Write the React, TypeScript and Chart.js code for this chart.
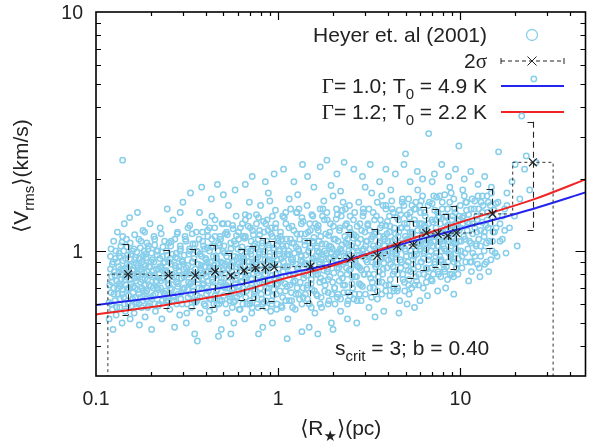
import React, { useEffect, useRef } from 'react';
import { Chart, registerables } from 'chart.js';

Chart.register(...registerables);

// ---------------- data ----------------
// Heyer et al. (2001) clouds: [R (pc), Vrms (km/s)] – outer spread
const HEYER_SPREAD: number[][] = [
  [0.118,0.52],[0.118,0.61],[0.119,0.72],[0.12,0.84],[0.12,0.95],[0.121,1.02],[0.121,0.67],[0.122,0.78],[0.123,0.57],[0.123,0.88],[0.124,0.47],[0.125,1.1],[0.125,0.7],[0.126,0.82],[0.127,0.62],[0.128,0.93],[0.129,0.54],[0.13,0.75],[0.131,1.2],[0.132,0.66],[0.133,0.86],[0.134,0.98],[0.135,0.58],[0.136,0.71],[0.137,1.05],[0.138,0.8],[0.139,0.5],[0.14,2.4],[0.141,0.91],[0.142,0.64],[0.143,1.3],[0.144,0.76],[0.145,0.56],[0.146,0.85],[0.147,1.12],[0.148,0.69],[0.149,0.96],[0.15,0.6],[0.152,0.79],[0.153,1.38],[0.154,0.52],[0.155,0.88],[0.156,0.73],[0.158,1.0],[0.159,0.63],
  [0.161,0.83],[0.162,0.55],[0.163,1.17],[0.164,0.7],[0.165,0.94],[0.167,0.61],[0.168,0.78],[0.169,1.45],[0.17,0.87],[0.172,0.66],[0.173,0.49],[0.175,1.03],[0.176,0.74],[0.178,0.58],[0.179,0.9],[0.181,1.22],[0.182,0.68],[0.184,0.81],[0.186,0.53],[0.187,0.97],[0.189,0.63],[0.19,1.08],[0.192,0.76],[0.194,0.59],[0.196,0.86],[0.198,1.3],[0.2,0.71],[0.202,0.47],[0.204,0.92],[0.206,0.65],[0.208,1.15],[0.21,0.79],[0.212,0.56],[0.215,1.0],[0.217,0.7],[0.22,0.84],[0.222,0.6],[0.225,1.25],[0.227,0.75],[0.23,0.52],[0.232,0.95],[0.235,0.67],[0.238,1.1],[0.24,0.82],[0.243,0.62],[0.246,1.5],[0.248,0.73],
  [0.251,0.9],[0.254,0.57],[0.257,1.05],[0.26,0.69],[0.262,0.8],[0.265,1.35],[0.268,0.62],[0.27,0.48],[0.273,0.94],[0.276,0.74],[0.279,1.18],[0.282,0.66],[0.285,0.86],[0.288,0.54],[0.291,1.02],[0.294,0.77],[0.297,0.6],[0.3,1.6],[0.303,0.88],[0.306,0.7],[0.31,1.12],[0.313,0.5],[0.316,0.82],[0.32,0.64],[0.323,0.97],[0.327,1.28],[0.33,0.73],[0.334,0.58],[0.337,0.9],[0.34,1.07],[0.344,0.68],[0.348,0.45],[0.351,0.84],[0.355,1.2],[0.358,0.62],[0.362,0.99],[0.366,0.76],[0.37,1.45],[0.373,0.55],[0.377,0.87],[0.381,0.7],[0.385,1.1],[0.389,0.8],[0.392,0.6],[0.396,1.32],[0.33,1.75],[0.36,0.42],[0.29,1.45],[0.38,1.85],
  [0.4,0.93],[0.404,0.66],[0.408,1.03],[0.412,0.75],[0.416,0.52],[0.42,1.25],[0.424,0.85],[0.428,0.63],[0.433,1.4],[0.437,0.71],[0.441,0.95],[0.446,0.57],[0.45,1.15],[0.455,0.8],[0.459,0.68],[0.464,1.9],[0.468,0.89],[0.473,0.6],[0.478,1.06],[0.483,0.74],[0.487,0.47],[0.492,1.3],[0.497,0.83],[0.502,0.65],[0.507,0.98],[0.512,1.18],[0.517,0.72],[0.522,0.55],[0.527,0.9],[0.533,1.55],[0.538,0.78],[0.543,0.62],[0.549,1.08],[0.554,0.86],[0.56,0.69],[0.565,1.24],[0.571,0.5],[0.577,0.95],[0.582,0.76],[0.588,1.4],[0.594,0.64],[0.6,0.88],[0.606,1.12],[0.612,0.71],[0.618,0.57],[0.624,1.0],[0.43,1.65],[0.5,1.72],[0.47,0.44],[0.58,1.8],[0.55,0.45],
  [0.63,0.82],[0.636,1.3],[0.642,0.67],[0.648,0.93],[0.655,0.52],[0.661,1.15],[0.668,0.77],[0.674,0.6],[0.681,1.02],[0.688,0.86],[0.695,1.6],[0.702,0.7],[0.709,0.97],[0.716,0.55],[0.723,1.22],[0.73,0.8],[0.737,0.64],[0.745,1.07],[0.752,0.9],[0.76,1.42],[0.767,0.73],[0.775,0.58],[0.783,0.99],[0.791,1.17],[0.799,0.83],[0.807,0.66],[0.815,1.05],[0.823,0.48],[0.831,1.33],[0.84,0.76],[0.848,0.92],[0.857,0.62],[0.865,1.1],[0.874,0.85],[0.883,1.75],[0.891,0.7],[0.9,0.95],[0.91,0.56],[0.919,1.25],[0.928,0.79],[0.937,0.65],[0.947,1.03],[0.956,0.88],[0.966,1.48],[0.975,0.72],[0.985,0.6],[0.995,1.13],[0.66,1.9],[0.72,2.05],[0.85,1.95],[0.78,0.45],[0.93,0.5],[0.69,1.4],[0.8,1.55],[0.95,2.1],[0.9,1.62],
  [1.0,0.84],[1.01,0.97],[1.02,0.68],[1.03,1.2],[1.04,0.78],[1.05,0.58],[1.06,1.05],[1.07,0.9],[1.08,1.38],[1.09,0.73],[1.1,0.62],[1.11,1.12],[1.12,0.86],[1.13,0.52],[1.14,1.0],[1.15,1.65],[1.16,0.8],[1.18,0.67],[1.19,1.27],[1.2,0.93],[1.21,0.74],[1.22,1.08],[1.24,0.57],[1.25,0.88],[1.26,1.45],[1.27,0.7],[1.29,1.02],[1.3,0.82],[1.31,0.63],[1.33,1.18],[1.34,0.95],[1.35,0.46],[1.37,1.33],[1.38,0.77],[1.4,1.06],[1.41,0.66],[1.42,0.89],[1.44,1.55],[1.45,0.72],[1.47,1.0],[1.48,0.6],[1.5,1.22],[1.51,0.85],[1.53,0.69],[1.54,1.1],[1.56,0.93],[1.57,1.85],[1.59,0.55],[1.07,2.2],[1.22,1.95],[1.36,2.3],[1.12,0.43],[1.48,0.48],[1.28,1.72],[1.45,2.05],[1.17,1.5],[1.55,1.4],
  [1.61,0.8],[1.63,1.03],[1.64,0.65],[1.66,1.28],[1.68,0.9],[1.69,0.74],[1.71,1.15],[1.73,0.58],[1.75,0.97],[1.76,1.5],[1.78,0.83],[1.8,0.68],[1.82,1.07],[1.84,0.88],[1.86,1.35],[1.88,0.76],[1.9,0.62],[1.92,1.2],[1.94,0.94],[1.96,0.5],[1.98,1.02],[2.0,1.7],[2.02,0.81],[2.04,0.7],[2.06,1.12],[2.09,0.92],[2.11,1.42],[2.13,0.66],[2.15,0.85],[2.18,1.25],[2.2,0.56],[2.22,1.0],[2.25,0.77],[2.27,1.6],[2.3,0.9],[2.32,0.72],[2.35,1.08],[2.37,1.3],[2.4,0.6],[2.42,0.97],[2.45,0.83],[2.48,1.18],[1.7,2.25],[1.85,2.4],[2.1,2.1],[2.3,2.35],[1.65,0.45],[2.0,0.47],[2.4,0.52],[1.95,1.88],[2.2,1.78],[1.78,1.62],[2.46,1.55],
  [2.5,0.88],[2.53,1.05],[2.56,0.7],[2.59,1.35],[2.62,0.93],[2.65,0.78],[2.68,1.15],[2.71,0.62],[2.74,1.0],[2.77,1.6],[2.8,0.85],[2.84,0.72],[2.87,1.22],[2.9,0.96],[2.94,1.45],[2.97,0.8],[3.01,0.66],[3.04,1.1],[3.08,0.9],[3.11,1.3],[3.15,0.58],[3.19,1.02],[3.22,0.77],[3.26,1.75],[3.3,0.94],[3.34,0.7],[3.38,1.18],[3.42,0.86],[3.46,1.4],[3.5,0.63],[3.54,1.06],[3.58,0.82],[3.63,1.25],[3.67,0.97],[3.71,0.74],[3.76,1.55],[3.8,0.89],[3.85,1.12],[3.89,0.68],[3.94,1.0],[3.98,1.33],[2.6,2.2],[2.9,2.05],[3.2,2.3],[3.6,1.95],[3.9,2.2],[2.7,0.5],[3.4,0.53],[3.8,0.56],[3.0,1.85],[3.7,1.7],
  [4.03,0.92],[4.08,1.2],[4.12,0.76],[4.17,1.05],[4.22,1.5],[4.27,0.86],[4.32,0.68],[4.37,1.12],[4.43,0.98],[4.48,1.38],[4.53,0.8],[4.59,1.02],[4.64,0.62],[4.7,1.25],[4.75,0.9],[4.81,1.65],[4.87,1.08],[4.93,0.74],[4.99,1.15],[5.05,0.95],[5.11,1.42],[5.17,0.83],[5.23,0.66],[5.29,1.2],[5.36,1.0],[5.42,1.55],[5.49,0.88],[5.55,1.1],[5.62,0.72],[5.69,1.3],[5.76,0.97],[5.83,1.8],[5.9,0.8],[5.97,1.05],[6.04,1.45],[6.11,0.9],[6.18,1.18],[6.26,0.7],[4.4,2.1],[4.9,2.3],[5.3,1.95],[5.8,2.15],[6.2,2.0],[4.6,0.55],[5.1,0.6],[5.6,0.58],[6.0,0.62],[4.15,1.8],[5.0,2.55],[5.7,1.6],
  [6.34,1.0],[6.41,1.25],[6.49,0.85],[6.57,1.1],[6.65,1.55],[6.73,0.95],[6.81,1.18],[6.89,0.76],[6.97,1.35],[7.06,1.05],[7.14,1.7],[7.23,0.88],[7.31,1.2],[7.4,0.98],[7.49,1.45],[7.58,0.8],[7.67,1.12],[7.76,1.3],[7.85,0.92],[7.95,1.6],[8.04,1.07],[8.14,0.84],[8.24,1.22],[8.34,1.0],[8.44,1.4],[8.54,0.9],[8.64,1.15],[8.75,1.85],[8.85,0.97],[8.96,1.28],[9.07,1.08],[9.18,0.78],[9.29,1.5],[9.4,1.02],[9.51,1.2],[9.63,0.88],[9.75,1.35],[9.87,1.1],[6.7,3.1],[9.8,2.75],[7.2,2.1],[7.9,2.3],[8.6,2.05],[9.4,2.2],[6.6,0.65],[7.5,0.68],[8.3,0.7],[9.2,0.66],[7.0,1.95],[8.9,1.75],
  [10.0,1.25],[10.2,0.95],[10.4,1.4],[10.6,1.12],[10.8,1.6],[11.0,1.02],[11.2,1.3],[11.5,0.9],[11.7,1.18],[11.9,1.5],[12.2,1.07],[12.4,1.35],[12.7,0.85],[12.9,1.22],[13.2,1.7],[13.5,1.0],[13.8,1.28],[14.1,1.45],[14.4,1.1],[14.7,0.92],[15.0,1.38],[15.4,1.2],[15.7,1.58],[10.5,2.0],[11.4,2.15],[12.5,1.9],[13.6,2.05],[14.8,1.85],[11.1,0.75],[12.8,0.78],[14.3,0.82],[15.5,0.98],[10.3,1.8],[12.0,1.62],
  [16.2,2.6],[16.5,1.3],[17.0,1.12],[17.5,1.5],[18.0,1.75],[18.6,1.25],[19.2,1.95],[19.8,1.4],[20.5,1.05],[21.2,1.65],[21.7,3.67],[22.5,2.2],[23.0,2.5],[24.0,1.8],[25.3,5.25],[26.0,2.35],[17.8,0.98],[20.0,2.3],
];

// Heyer et al. (2001) clouds: core of the distribution
const HEYER_CORE: number[][] = [
  [0.131,0.9],[0.134,0.73],[0.137,0.84],[0.139,0.66],[0.142,1.0],[0.145,0.78],[0.148,0.88],[0.151,0.7],[0.154,1.08],[0.157,0.8],[0.16,0.67],[0.163,0.92],[0.166,0.75],[0.169,0.85],[0.172,1.12],[0.175,0.64],[0.178,0.82],[0.181,0.95],[0.184,0.72],[0.187,0.87],[0.19,0.68],[0.193,1.02],[0.196,0.79],[0.2,0.9],[0.203,0.63],[0.206,0.83],[0.21,1.06],[0.213,0.74],[0.217,0.96],[0.22,0.69],[0.224,0.86],[0.228,1.18],[0.231,0.77],[0.235,0.89],[0.239,0.66],[0.243,1.0],[0.247,0.81],[0.251,0.72],[0.255,0.93],[0.259,1.1],[0.263,0.76],[0.268,0.64],[0.272,0.87],[0.276,0.98],[0.281,0.71],[0.285,0.82],[0.29,1.05],[0.294,0.67],[0.299,0.91],[0.304,0.78],[0.308,1.15],[0.313,0.85],[0.318,0.69],[0.323,0.8],[0.328,1.0],[0.334,0.74],[0.339,0.9],[0.344,0.62],[0.35,1.07],[0.355,0.79],[0.361,0.88],[0.367,0.7],[0.372,0.97],[0.378,0.83],[0.384,1.2],[0.39,0.73],[0.397,0.86],[0.14,1.15],[0.165,0.6],[0.185,1.2],[0.21,0.6],[0.25,0.62],[0.28,1.2],[0.32,1.25],[0.36,0.65],[0.395,1.02],
  [0.402,0.78],[0.408,0.9],[0.414,0.68],[0.42,1.0],[0.426,0.8],[0.432,1.12],[0.438,0.74],[0.444,0.87],[0.451,0.65],[0.457,0.95],[0.464,0.8],[0.47,1.08],[0.477,0.72],[0.484,0.9],[0.491,0.62],[0.498,1.0],[0.505,0.77],[0.512,0.88],[0.52,1.2],[0.527,0.7],[0.535,0.84],[0.542,0.98],[0.55,0.66],[0.558,0.9],[0.566,0.79],[0.574,1.1],[0.583,0.73],[0.591,0.86],[0.6,1.02],[0.608,0.68],[0.617,0.82],[0.626,0.94],[0.635,0.75],[0.644,1.15],[0.654,0.87],[0.663,0.64],[0.673,0.99],[0.683,0.79],[0.693,0.9],[0.703,1.25],[0.713,0.72],[0.724,0.85],[0.734,1.05],[0.745,0.68],[0.756,0.92],[0.767,0.81],[0.778,1.12],[0.79,0.74],[0.801,0.87],[0.813,0.63],[0.825,0.97],[0.837,1.2],[0.85,0.8],[0.862,0.7],[0.875,0.9],[0.888,1.03],[0.901,0.76],[0.914,0.86],[0.928,1.15],[0.942,0.69],[0.956,0.95],[0.97,0.8],[0.984,1.06],[0.998,0.73],[0.41,1.22],[0.46,0.6],[0.53,1.3],[0.57,0.61],[0.62,1.25],[0.66,1.35],[0.7,0.62],[0.76,1.3],[0.82,0.6],[0.87,1.35],[0.92,0.62],[0.97,1.3],[0.48,1.15],[0.59,1.16],[0.71,1.1],[0.88,1.22],[0.44,1.05],[0.51,0.7],[0.64,0.7],[0.79,0.97],[0.93,0.88],
  [1.005,0.88],[1.02,1.0],[1.035,0.75],[1.05,1.12],[1.065,0.82],[1.08,0.95],[1.095,0.68],[1.11,1.05],[1.13,0.86],[1.145,1.25],[1.16,0.72],[1.18,0.92],[1.195,1.08],[1.21,0.79],[1.23,0.98],[1.25,0.66],[1.265,1.18],[1.285,0.85],[1.3,1.0],[1.32,0.74],[1.34,1.3],[1.36,0.9],[1.38,0.8],[1.4,1.1],[1.42,0.96],[1.44,0.7],[1.46,1.2],[1.48,0.87],[1.5,1.03],[1.52,0.76],[1.55,0.93],[1.57,1.14],[1.59,0.82],[1.62,0.66],[1.64,1.0],[1.66,1.22],[1.69,0.88],[1.71,0.77],[1.74,1.07],[1.76,0.94],[1.79,1.35],[1.81,0.72],[1.84,0.98],[1.87,0.84],[1.89,1.16],[1.92,0.78],[1.95,1.04],[1.98,0.9],[2.01,1.27],[2.04,0.7],[2.07,0.97],[2.1,0.85],[2.13,1.1],[2.16,0.75],[2.19,1.02],[2.22,1.4],[2.26,0.88],[2.29,0.67],[2.32,1.15],[2.36,0.94],[2.39,0.8],[2.43,1.06],[2.46,1.25],[2.5,0.84],[2.54,0.73],[2.57,1.0],[2.61,1.17],[2.65,0.9],[2.69,0.78],[2.73,1.08],[2.77,0.96],[2.81,1.3],[2.86,0.83],[2.9,0.71],[2.94,1.02],[2.99,1.2],[1.06,1.4],[1.15,0.62],[1.27,1.45],[1.37,0.64],[1.53,1.42],[1.6,1.3],[1.72,0.64],[1.85,1.45],[1.97,0.66],[2.09,1.5],[2.2,0.63],[2.34,1.5],[2.48,0.65],[2.63,1.45],[2.79,0.66],[2.93,1.5],[1.12,0.97],[1.33,0.91],[1.47,1.1],[1.68,0.99],[1.9,0.93],[2.12,0.98],[2.4,1.12],[2.7,0.87],
  [3.03,0.92],[3.08,1.1],[3.13,0.8],[3.18,1.22],[3.23,0.97],[3.28,0.74],[3.33,1.05],[3.38,1.35],[3.43,0.88],[3.49,1.0],[3.54,0.78],[3.6,1.15],[3.65,0.94],[3.71,1.28],[3.77,0.84],[3.83,1.05],[3.89,0.72],[3.95,1.18],[4.01,0.99],[4.08,1.4],[4.14,0.88],[4.21,1.1],[4.27,0.8],[4.34,1.25],[4.41,1.0],[4.48,0.9],[4.55,1.15],[4.62,1.48],[4.7,0.85],[4.77,1.06],[4.85,0.76],[4.93,1.3],[5.0,1.0],[5.08,1.12],[5.17,0.9],[5.25,1.38],[5.33,0.82],[5.42,1.2],[5.5,1.05],[5.59,0.95],[5.68,1.5],[5.77,1.12],[5.87,0.86],[5.96,1.3],[6.06,1.02],[6.16,1.22],[6.26,0.93],[6.36,1.45],[6.46,1.08],[6.57,0.84],[6.67,1.3],[6.78,1.15],[6.89,1.0],[7.0,1.58],[7.12,1.1],[7.23,0.9],[7.35,1.25],[7.47,1.05],[7.59,1.4],[7.71,0.95],[7.84,1.2],[7.97,1.1],[8.1,0.88],[8.23,1.32],[8.36,1.12],[8.5,1.5],[8.64,0.98],[8.78,1.25],[8.92,1.05],[9.06,1.4],[9.21,0.93],[9.36,1.18],[9.51,1.3],[9.67,1.0],[9.83,1.22],[9.99,1.55],[3.15,1.5],[3.5,0.68],[3.9,1.55],[4.3,0.7],[4.8,1.6],[5.2,0.72],[5.7,0.78],[6.1,1.62],[6.6,0.78],[7.1,0.8],[7.7,1.7],[8.2,0.82],[8.8,0.8],[9.5,0.85],[3.3,1.15],[3.7,1.0],[4.2,0.95],[4.6,1.2],[5.1,1.25],[5.5,0.92],[6.0,1.1],[6.4,1.28],[7.3,1.35],[7.9,1.0],[8.6,1.18],[9.3,1.08],
  [10.1,1.1],[10.3,1.3],[10.6,0.98],[10.9,1.22],[11.1,1.42],[11.4,1.08],[11.7,1.3],[12.0,0.95],[12.3,1.2],[12.6,1.5],[12.9,1.05],[13.2,1.32],[13.5,1.15],[13.9,0.9],[14.2,1.25],[14.6,1.55],[15.0,1.1],[10.7,1.6],[11.6,1.65],[12.4,0.88],[13.3,1.55],[14.0,1.7],[10.2,0.85],[11.3,0.9],
];

// Heyer et al. (2001) clouds: densest part of the distribution
const HEYER_DENSE: number[][] = [
  [0.1215,0.6],[0.1225,0.74],[0.124,0.9],[0.1255,0.66],[0.127,0.79],[0.1285,1.0],[0.13,0.58],[0.1315,0.7],[0.133,0.81],[0.1345,0.95],[0.136,0.63],[0.1375,0.76],[0.139,1.09],[0.1405,0.69],[0.142,0.83],[0.1435,0.6],[0.145,0.93],[0.1465,0.72],[0.148,1.04],[0.1495,0.8],[0.151,0.65],[0.1525,0.87],[0.154,0.76],[0.1555,0.97],[0.157,0.59],[0.1585,0.83],[0.16,0.71],[0.1615,1.02],[0.163,0.77],[0.1645,0.64],[0.166,0.89],[0.1675,0.99],[0.169,0.69],[0.1705,0.8],[0.172,0.6],[0.1735,0.93],[0.175,0.84],[0.1765,1.1],[0.178,0.7],[0.1795,0.76],[0.181,0.62],[0.1825,0.88],[0.184,1.0],[0.1855,0.77],[0.187,0.67],[0.1885,0.94],[0.19,0.82],[0.192,0.58],[0.194,1.05],[0.196,0.72],[0.198,0.86],[0.2,0.64],[0.202,0.98],[0.204,0.78],[0.206,0.7],[0.208,0.9],[0.21,1.12],[0.212,0.66],[0.214,0.84],[0.216,0.75],[0.218,1.0],[0.22,0.59],[0.222,0.8],[0.224,0.93],[0.226,0.7],[0.228,0.85],[0.231,0.62],[0.233,1.04],[0.236,0.77],[0.238,0.9],[0.241,0.68],[0.243,0.83],[0.246,0.96],[0.248,0.61],[0.251,1.08],[0.254,0.8],[0.256,0.7],[0.259,0.88],[0.262,0.97],[0.265,0.65],[0.268,0.78],[0.271,1.12],[0.274,0.85],[0.277,0.6],[0.28,0.93],[0.283,0.73],[0.286,0.83],[0.289,1.0],[0.292,0.63],[0.295,0.77],[0.298,0.9],
  [0.301,0.69],[0.305,0.96],[0.309,0.8],[0.312,1.1],[0.316,0.6],[0.319,0.87],[0.322,0.74],[0.326,1.02],[0.33,0.66],[0.333,0.82],[0.337,1.18],[0.341,0.71],[0.345,0.93],[0.348,0.8],[0.352,0.61],[0.356,1.0],[0.36,0.76],[0.364,0.88],[0.368,1.12],[0.372,0.64],[0.376,0.81],[0.38,0.95],[0.385,0.72],[0.389,1.05],[0.393,0.86],[0.398,0.59],[0.402,0.92],[0.406,0.7],[0.411,1.15],[0.415,0.82],[0.42,0.63],[0.424,0.9],[0.429,1.04],[0.434,0.76],[0.438,0.85],[0.443,0.6],[0.448,1.25],[0.453,0.79],[0.458,0.93],[0.463,0.69],[0.468,1.0],[0.473,0.84],[0.478,0.62],[0.483,1.12],[0.488,0.77],[0.494,0.89],[0.499,0.71],[0.504,1.05],[0.51,0.81],[0.515,0.6],[0.521,0.95],[0.526,1.17],[0.532,0.74],[0.538,0.87],[0.544,0.64],[0.55,1.02],[0.556,0.82],[0.562,1.28],[0.568,0.7],[0.574,0.91],[0.58,0.62],[0.587,1.07],[0.593,0.79],[0.6,0.94],[0.606,1.2],[0.613,0.66],[0.62,0.86],[0.626,0.74],[0.633,1.04],[0.64,0.6],[0.647,0.91],[0.654,1.13],[0.662,0.78],[0.669,0.68],[0.676,0.95],[0.684,1.27],[0.691,0.83],[0.699,0.6],[0.707,1.0],[0.715,0.77],[0.723,0.9],[0.731,1.17],[0.739,0.66],[0.747,0.84],[0.756,1.03],[0.764,0.6],[0.773,0.94],[0.781,0.79],[0.79,1.22],[0.799,0.7],[0.808,0.88],[0.817,1.08],[0.826,0.76],[0.835,0.61],[0.845,0.99],[0.854,1.3],[0.864,0.83],[0.873,0.67],[0.883,1.06],[0.893,0.92],[0.903,0.73],[0.913,1.18],[0.923,0.6],[0.934,0.89],[0.944,1.01],[0.955,0.77],[0.965,1.25],[0.976,0.66],[0.987,0.92],[0.998,1.1],[0.315,0.55],[0.42,0.56],[0.5,1.3],[0.61,0.57],[0.72,0.58],[0.86,0.58],[0.98,0.57],[0.56,0.58],[0.45,1.35],[0.66,1.42],[0.78,1.38],[0.93,1.4],
  [1.012,0.76],[1.028,1.15],[1.042,0.93],[1.058,0.64],[1.072,1.02],[1.088,0.86],[1.102,1.3],[1.118,0.71],[1.135,0.97],[1.152,0.8],[1.168,1.12],[1.185,0.62],[1.202,0.9],[1.22,1.22],[1.238,0.75],[1.255,1.04],[1.275,0.84],[1.292,0.66],[1.312,1.12],[1.33,0.96],[1.35,1.38],[1.37,0.7],[1.39,0.88],[1.41,1.18],[1.43,0.79],[1.45,0.63],[1.47,0.99],[1.49,1.3],[1.515,0.73],[1.535,0.9],[1.56,1.08],[1.58,0.68],[1.605,0.95],[1.63,1.25],[1.65,0.8],[1.675,1.1],[1.7,0.6],[1.725,0.92],[1.75,1.4],[1.775,0.75],[1.8,1.0],[1.825,1.18],[1.855,0.82],[1.88,0.67],[1.91,1.05],[1.935,1.3],[1.965,0.89],[1.99,0.74],[2.02,1.12],[2.05,0.95],[2.08,1.36],[2.11,0.64],[2.14,0.99],[2.17,1.22],[2.2,0.8],[2.24,1.06],[2.27,0.72],[2.3,0.95],[2.34,1.28],[2.37,0.85],[2.41,0.67],[2.44,1.0],[2.48,1.4],[2.52,0.92],[2.55,0.78],[2.59,1.13],[2.63,0.66],[2.67,1.03],[2.71,1.27],[2.75,0.86],[2.79,0.73],[2.83,1.12],[2.88,0.95],[2.92,1.4],[2.96,0.8],[1.04,0.59],[1.2,0.58],[1.35,0.6],[1.52,0.58],[1.7,1.5],[1.88,0.6],[2.05,0.6],[2.25,1.48],[2.42,0.62],[2.6,0.63],[2.85,0.62],[1.1,1.45],[1.3,1.5],[1.5,0.85],[1.95,0.98],[2.15,0.88],[2.5,1.2],[2.9,1.0],
  [3.02,1.05],[3.06,0.84],[3.1,1.28],[3.14,0.95],[3.19,0.7],[3.23,1.12],[3.27,0.9],[3.32,1.45],[3.36,0.8],[3.41,1.02],[3.45,1.2],[3.5,0.88],[3.55,0.74],[3.6,1.08],[3.64,1.35],[3.69,0.93],[3.74,0.8],[3.79,1.15],[3.84,0.98],[3.9,1.5],[3.95,0.85],[4.0,1.1],[4.06,0.72],[4.11,1.27],[4.17,0.93],[4.22,1.03],[4.28,1.45],[4.34,0.82],[4.4,1.18],[4.46,0.97],[4.52,0.7],[4.58,1.35],[4.64,1.08],[4.7,0.92],[4.77,1.25],[4.83,0.8],[4.9,1.55],[4.96,1.02],[5.03,0.87],[5.1,1.3],[5.16,1.12],[5.23,0.76],[5.3,1.45],[5.38,0.96],[5.45,1.18],[5.52,0.84],[5.6,1.35],[5.67,1.0],[5.75,0.75],[5.83,1.22],[5.91,1.08],[5.99,1.55],[6.07,0.9],[6.15,1.3],[6.24,1.12],[6.32,0.8],[6.41,1.4],[6.49,1.02],[6.58,1.22],[6.67,0.92],[6.76,1.6],[6.85,1.08],[6.95,0.85],[7.04,1.32],[7.14,1.15],[7.23,1.48],[7.33,0.95],[7.43,1.2],[7.53,0.82],[7.63,1.38],[7.74,1.1],[7.84,0.9],[7.95,1.5],[8.06,1.2],[8.17,1.02],[8.28,1.4],[8.39,0.86],[8.51,1.28],[8.62,1.1],[8.74,1.6],[8.86,0.95],[8.98,1.35],[9.1,1.15],[9.23,0.9],[9.35,1.45],[9.48,1.08],[9.61,1.25],[9.74,0.93],[9.87,1.4],[3.25,0.64],[3.7,0.66],[4.1,0.65],[4.5,0.68],[4.95,0.68],[5.4,0.7],[5.9,0.72],[6.5,0.74],[7.0,0.75],[7.8,0.78],[8.5,0.76],[9.0,0.8],[9.7,0.8],[3.5,1.6],[4.2,1.62],[5.2,1.65],[6.2,1.7],[7.4,1.68],[8.2,1.72],[9.2,1.65],[3.9,1.28],[4.7,1.42],[5.6,1.5],[6.3,0.98],[7.6,1.05],[8.9,1.22],
  [10.05,1.0],[10.25,1.38],[10.45,1.15],[10.7,0.9],[10.95,1.32],[11.2,1.1],[11.45,1.5],[11.7,0.98],[12.0,1.25],[12.3,1.4],[12.6,1.12],[12.9,0.95],[13.2,1.45],[13.55,1.2],[13.9,1.08],[14.25,1.6],[14.6,1.3],[14.95,1.0],[15.3,1.48],[15.7,1.25],[16.1,1.6],[16.5,1.1],[17.0,1.4],[17.5,1.22],[18.0,1.55],[10.5,1.7],[11.5,0.82],[12.5,1.7],[13.6,0.88],[14.8,1.75],[15.9,0.95],[10.8,1.48],[12.2,1.05],[13.0,1.6],[14.0,1.35],[15.1,1.2],
];

// binned means with 2-sigma ranges
const SIGMA_R = [0.15, 0.25, 0.35, 0.45, 0.55, 0.65, 0.75, 0.85, 0.95, 1.5, 2.5, 3.5, 4.5, 5.5, 6.5, 7.5, 8.5, 9.5, 15, 25];
const SIGMA_MEAN = [0.80, 0.79, 0.79, 0.82, 0.79, 0.83, 0.85, 0.855, 0.855, 0.86, 0.93, 0.956, 1.05, 1.06, 1.19, 1.18, 1.16, 1.19, 1.43, 2.35];
const SIGMA_LO = [0.54, 0.58, 0.576, 0.585, 0.665, 0.624, 0.624, 0.58, 0.62, 0.608, 0.661, 0.661, 0.714, 0.773, 0.833, 0.855, 0.88, 0.84, 1.03, 1.22];
const SIGMA_HI = [1.067, 1.01, 1.02, 1.06, 0.978, 1.02, 1.05, 1.13, 1.10, 1.11, 1.20, 1.24, 1.39, 1.34, 1.53, 1.50, 1.43, 1.55, 1.82, 3.47];

// model curves
const MODEL_R = [0.1, 0.25, 0.63, 1, 2, 4, 10, 25, 50];
const V_GAMMA_10 = [0.594, 0.65, 0.727, 0.79, 0.885, 1.03, 1.24, 1.5, 1.77];
const V_GAMMA_12 = [0.543, 0.598, 0.68, 0.755, 0.87, 1.04, 1.32, 1.64, 2.01];

// axes
const X_MIN = 0.1, X_MAX = 48.6, Y_MIN = 0.3, Y_MAX = 10;
const X_TICKS = [0.1,0.2,0.3,0.4,0.5,0.6,0.7,0.8,0.9,1,2,3,4,5,6,7,8,9,10,20,30,40];
const Y_TICKS = [0.3,0.4,0.5,0.6,0.7,0.8,0.9,1,2,3,4,5,6,7,8,9,10];
const X_MAJOR = [0.1, 1, 10];
const X_LABELS = ['0.1', '1', '10'];
const Y_MAJOR = [1, 10];
const Y_LABELS = ['1', '10'];

// ---------------- text ----------------
type Seg = { t: string; sub?: boolean; serif?: boolean };
const SANS = '"Liberation Sans", Arial, Helvetica, "DejaVu Sans", sans-serif';
const SERIF = '"Liberation Serif", "DejaVu Serif", serif';

const Y_TITLE: Seg[] = [{ t: '⟨V' }, { t: 'rms', sub: true }, { t: '⟩(km/s)' }];
const X_TITLE: Seg[] = [{ t: '⟨R' }, { t: '★', sub: true }, { t: '⟩(pc)' }];
const LEGEND_LABELS: Seg[][] = [
  [{ t: 'Heyer et. al (2001)' }],
  [{ t: '2' }, { t: 'σ', serif: true }],
  [{ t: 'Γ', serif: true }, { t: '= 1.0; T' }, { t: '0', sub: true }, { t: ' = 4.9 K' }],
  [{ t: 'Γ', serif: true }, { t: '= 1.2; T' }, { t: '0', sub: true }, { t: ' = 2.2 K' }],
];
const NOTE: Seg[] = [{ t: 's' }, { t: 'crit', sub: true }, { t: ' = 3; b = 0.40' }];

const SKY = '#87CEEB';
const BLUE = '#2424f0';
const RED = '#f02424';
const INK = '#222222';

function fontFor(seg: Seg, size: number) {
  const s = seg.sub ? Math.round(size * 0.7) : size;
  return `${s}px ${seg.serif ? SERIF : SANS}`;
}
function richWidth(ctx: CanvasRenderingContext2D, segs: Seg[], size: number) {
  let w = 0;
  for (const s of segs) { ctx.font = fontFor(s, size); w += ctx.measureText(s.t).width; }
  return w;
}
function drawRich(ctx: CanvasRenderingContext2D, segs: Seg[], x: number, y: number, size: number, align: 'left' | 'right' | 'center') {
  const w = richWidth(ctx, segs, size);
  let cx = align === 'left' ? x : align === 'right' ? x - w : x - w / 2;
  ctx.textAlign = 'left';
  ctx.textBaseline = 'alphabetic';
  for (const s of segs) {
    ctx.font = fontFor(s, size);
    ctx.fillText(s.t, cx, y + (s.sub ? size * 0.3 : 0));
    cx += ctx.measureText(s.t).width;
  }
}
function cross(ctx: CanvasRenderingContext2D, x: number, y: number, r: number) {
  ctx.beginPath();
  ctx.moveTo(x - r, y - r); ctx.lineTo(x + r, y + r);
  ctx.moveTo(x - r, y + r); ctx.lineTo(x + r, y - r);
  ctx.stroke();
}

const decor = {
  id: 'decor',
  beforeDatasetsDraw(chart: any) {
    const ctx: CanvasRenderingContext2D = chart.ctx;
    ctx.save();
    ctx.fillStyle = INK;
    const rows = [35, 61, 86, 112];
    const tx = 487, s0 = 501, s1 = 564, sm = 532;
    LEGEND_LABELS.forEach((segs, i) => drawRich(ctx, segs, tx, rows[i] + 7, 21, 'right'));
    ctx.strokeStyle = SKY; ctx.lineWidth = 1.3;
    ctx.beginPath(); ctx.arc(sm, rows[0], 5.5, 0, Math.PI * 2); ctx.stroke();
    ctx.strokeStyle = INK; ctx.lineWidth = 1;
    ctx.setLineDash([4, 3]);
    ctx.beginPath(); ctx.moveTo(s0, rows[1]); ctx.lineTo(s1, rows[1]); ctx.stroke();
    ctx.setLineDash([]);
    ctx.beginPath();
    ctx.moveTo(s0, rows[1] - 3); ctx.lineTo(s0, rows[1] + 3);
    ctx.moveTo(s1, rows[1] - 3); ctx.lineTo(s1, rows[1] + 3);
    ctx.stroke();
    cross(ctx, sm, rows[1], 4.5);
    ctx.lineWidth = 2;
    ctx.strokeStyle = BLUE;
    ctx.beginPath(); ctx.moveTo(s0, rows[2]); ctx.lineTo(s1, rows[2]); ctx.stroke();
    ctx.strokeStyle = RED;
    ctx.beginPath(); ctx.moveTo(s0, rows[3]); ctx.lineTo(s1, rows[3]); ctx.stroke();
    ctx.fillStyle = INK;
    drawRich(ctx, NOTE, 335, 355, 21, 'left');
    ctx.restore();
  },
  afterDatasetsDraw(chart: any) {
    const ctx: CanvasRenderingContext2D = chart.ctx;
    const xs = chart.scales.x, ys = chart.scales.y;
    const { left, right, top, bottom } = chart.chartArea;
    ctx.save();
    ctx.strokeStyle = INK; ctx.lineWidth = 1.1;
    ctx.setLineDash([6, 4]);
    SIGMA_R.forEach((r, i) => {
      const X = Math.round(xs.getPixelForValue(r)) + 0.5;
      const yl = ys.getPixelForValue(SIGMA_LO[i]);
      const yh = ys.getPixelForValue(SIGMA_HI[i]);
      ctx.beginPath();
      ctx.moveTo(X, yh); ctx.lineTo(X, yl);
      ctx.stroke();
    });
    ctx.setLineDash([]);
    SIGMA_R.forEach((r, i) => {
      const X = Math.round(xs.getPixelForValue(r)) + 0.5;
      const yl = Math.round(ys.getPixelForValue(SIGMA_LO[i])) + 0.5;
      const yh = Math.round(ys.getPixelForValue(SIGMA_HI[i])) + 0.5;
      ctx.beginPath();
      ctx.moveTo(X - 6, yh); ctx.lineTo(X, yh);
      ctx.moveTo(X - 6, yl); ctx.lineTo(X, yl);
      ctx.stroke();
    });
    ctx.strokeStyle = '#000'; ctx.lineWidth = 1.6;
    ctx.strokeRect(left, top, right - left, bottom - top);
    ctx.lineWidth = 1.2;
    ctx.beginPath();
    X_TICKS.forEach((v) => {
      if (v <= X_MIN || v >= X_MAX) return;
      const X = Math.round(xs.getPixelForValue(v)) + 0.5;
      const len = X_MAJOR.includes(v) ? 8 : 4;
      ctx.moveTo(X, bottom); ctx.lineTo(X, bottom - len);
      ctx.moveTo(X, top); ctx.lineTo(X, top + len);
    });
    Y_TICKS.forEach((v) => {
      if (v <= Y_MIN || v >= Y_MAX) return;
      const Y = Math.round(ys.getPixelForValue(v)) + 0.5;
      const len = Y_MAJOR.includes(v) ? 10 : 5;
      ctx.moveTo(left, Y); ctx.lineTo(left + len, Y);
      ctx.moveTo(right, Y); ctx.lineTo(right - len, Y);
    });
    ctx.stroke();
    ctx.restore();
  },
  afterDraw(chart: any) {
    const ctx: CanvasRenderingContext2D = chart.ctx;
    const xs = chart.scales.x, ys = chart.scales.y;
    const { left, right, bottom } = chart.chartArea;
    ctx.save();
    ctx.fillStyle = INK;
    ctx.font = `19.5px ${SANS}`;
    ctx.textBaseline = 'alphabetic';
    ctx.textAlign = 'center';
    X_MAJOR.forEach((v, i) => ctx.fillText(X_LABELS[i], xs.getPixelForValue(v), bottom + 29));
    ctx.textAlign = 'right';
    Y_MAJOR.forEach((v, i) => ctx.fillText(Y_LABELS[i], left - 13, ys.getPixelForValue(v) + 7));
    drawRich(ctx, X_TITLE, (left + right) / 2, 435, 21, 'center');
    ctx.translate(28, 176);
    ctx.rotate(-Math.PI / 2);
    drawRich(ctx, Y_TITLE, 0, 0, 21, 'center');
    ctx.restore();
  },
};

export default function App() {
  const ref = useRef<HTMLCanvasElement | null>(null);
  useEffect(() => {
    if (!ref.current) return;
    const pts = [...HEYER_SPREAD, ...HEYER_CORE, ...HEYER_DENSE].map(([x, y]) => ({ x, y }));
    const n = SIGMA_R.length;
    // histogram-step outline (gnuplot "histeps"): one mirrored bin at each end, dropping below the axis
    const stepR = [SIGMA_R[0] ** 2 / SIGMA_R[1], ...SIGMA_R, SIGMA_R[n - 1] ** 2 / SIGMA_R[n - 2]];
    const stepV = [Y_MIN / 2, ...SIGMA_MEAN, Y_MIN / 2];
    const chart = new Chart(ref.current, {
      type: 'scatter',
      data: {
        datasets: [
          {
            type: 'line',
            label: '2σ',
            data: stepR.map((x, i) => ({ x, y: stepV[i] })),
            stepped: 'middle',
            borderColor: '#333',
            borderWidth: 1,
            borderDash: [3, 3],
            pointStyle: 'crossRot',
            pointRadius: (c: any) => (c.dataIndex === 0 || c.dataIndex === n + 1 ? 0 : 5.5),
            pointBorderColor: INK,
            pointBorderWidth: 1.2,
            order: 1,
          } as any,
          {
            type: 'line',
            label: 'Γ= 1.2; T0 = 2.2 K',
            data: MODEL_R.map((x, i) => ({ x, y: V_GAMMA_12[i] })),
            borderColor: RED,
            borderWidth: 2,
            pointRadius: 0,
            cubicInterpolationMode: 'monotone',
            order: 2,
          } as any,
          {
            type: 'line',
            label: 'Γ= 1.0; T0 = 4.9 K',
            data: MODEL_R.map((x, i) => ({ x, y: V_GAMMA_10[i] })),
            borderColor: BLUE,
            borderWidth: 2,
            pointRadius: 0,
            cubicInterpolationMode: 'monotone',
            order: 3,
          } as any,
          {
            label: 'Heyer et. al (2001)',
            data: pts,
            pointStyle: 'circle',
            pointRadius: 2.7,
            pointBorderWidth: 1.5,
            pointBorderColor: SKY,
            pointBackgroundColor: 'rgba(0,0,0,0)',
            order: 10,
          } as any,
        ],
      },
      options: {
        responsive: false,
        animation: false,
        events: [],
        layout: { padding: { top: 12, right: 2, left: 0, bottom: 0 } },
        plugins: { legend: { display: false }, tooltip: { enabled: false } },
        scales: {
          x: {
            type: 'logarithmic',
            min: X_MIN,
            max: X_MAX,
            grid: { display: false, drawTicks: false },
            border: { display: false },
            ticks: { display: false },
            afterFit: (s: any) => { s.height = 71; },
          },
          y: {
            type: 'logarithmic',
            min: Y_MIN,
            max: Y_MAX,
            grid: { display: false, drawTicks: false },
            border: { display: false },
            ticks: { display: false },
            afterFit: (s: any) => { s.width = 96; },
          },
        },
      } as any,
      plugins: [decor],
    });
    return () => chart.destroy();
  }, []);
  return (
    <div style={{ position: 'absolute', left: 0, top: 0, width: 591, height: 447, background: '#fff' }}>
      <canvas ref={ref} width={591} height={447} style={{ display: 'block' }} />
    </div>
  );
}
